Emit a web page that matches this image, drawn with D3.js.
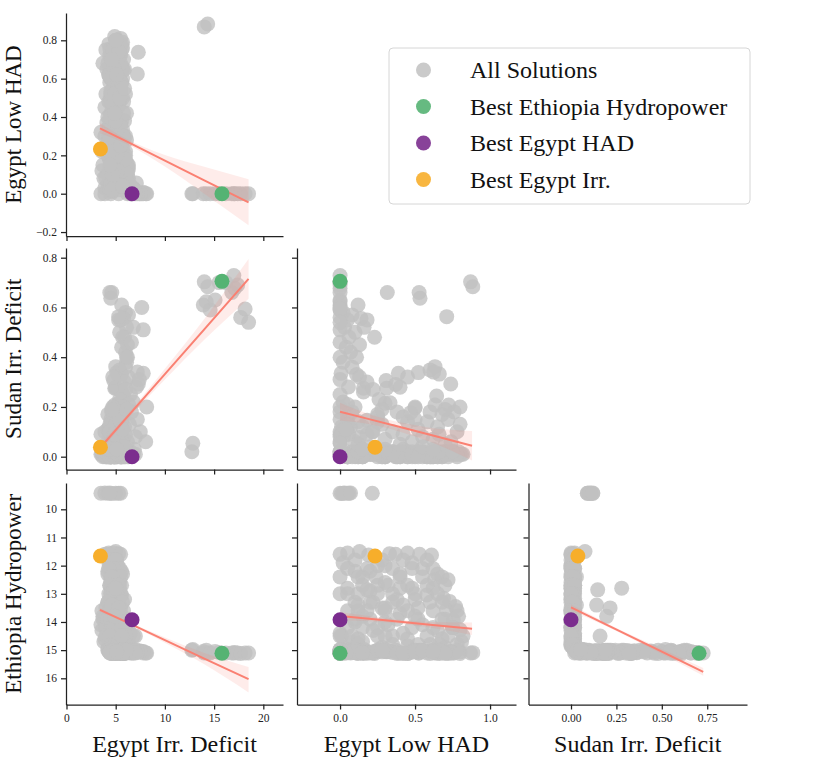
<!DOCTYPE html>
<html>
<head>
<meta charset="utf-8">
<script src="https://cdn.jsdelivr.net/npm/d3@7"></script>
<style>
  body { margin: 0; background: #fff; }
  text { font-family: "Liberation Serif", "DejaVu Serif", serif; }
</style>
</head>
<body>
<svg id="pairplot" width="830" height="764"></svg>
<script>
// variables of the pair plot, in the order [E, H, S, T]
const variables = ["Egypt Irr. Deficit", "Egypt Low HAD", "Sudan Irr. Deficit", "Ethiopia Hydropower"];

// solutions with the lowest Ethiopia hydropower
const lowHydroSolutions = [
  [3.5, 0.00, 0.09, 9.43], [3.9, 0.03, 0.10, 9.42], [4.2, 0.05, 0.11, 9.43],
  [4.6, 0.01, 0.12, 9.44], [5.0, 0.06, 0.09, 9.43], [5.3, 0.02, 0.11, 9.43],
  [5.5, 0.215, 0.10, 9.43], [4.4, 0.07, 0.12, 9.42]
];

// solutions with (almost) no Sudan deficit
const sudanZeroSolutions = [
  [3.9, 0.00, 0.01, 11.60], [4.3, 0.05, 0.00, 11.55], [5.0, 0.13, 0.077, 11.50],
  [4.6, 0.19, 0.02, 11.62], [5.3, 0.33, 0.01, 11.58], [4.1, 0.37, 0.00, 11.60],
  [4.8, 0.45, 0.02, 11.55], [5.5, 0.53, 0.01, 11.60], [4.4, 0.61, 0.00, 11.62],
  [4.4, 0.02, 0.01, 11.90], [5.2, 0.25, 0.00, 12.00], [4.7, 0.55, 0.02, 12.10],
  [5.6, 0.10, 0.01, 12.20], [4.2, 0.40, 0.00, 12.30], [5.0, 0.63, 0.02, 12.49],
  [4.5, 0.72, 0.01, 12.50], [5.4, 0.30, 0.00, 12.60], [4.9, 0.15, 0.03, 12.40],
  [4.3, 0.48, 0.01, 11.90], [4.6, 0.05, 0.00, 12.80], [5.1, 0.20, 0.02, 12.90],
  [4.3, 0.35, 0.01, 13.00], [5.6, 0.578, 0.00, 13.04], [4.8, 0.69, 0.02, 13.16],
  [5.3, 0.73, 0.01, 13.27], [4.5, 0.50, 0.00, 13.20], [5.0, 0.42, 0.03, 13.40],
  [4.2, 0.10, 0.01, 13.30], [5.5, 0.28, 0.00, 13.50], [4.7, 0.71, 0.02, 13.57],
  [5.2, 0.77, 0.01, 13.45], [4.9, 0.62, 0.00, 12.80], [4.4, 0.25, 0.02, 12.70],
  [3.7, 0.15, 0.01, 13.80], [3.9, 0.30, 0.00, 14.00], [4.4, 0.755, 0.02, 13.93],
  [5.0, 0.80, 0.01, 14.28], [5.8, 0.05, 0.00, 14.20], [6.5, 0.00, 0.02, 14.40],
  [7.0, 0.01, 0.01, 14.50], [4.6, 0.40, 0.00, 13.70], [5.4, 0.55, 0.02, 14.10],
  [6.0, 0.20, 0.01, 13.90], [4.1, 0.65, 0.00, 14.30], [5.2, 0.35, 0.02, 14.50],
  [3.6, 0.22, 0.01, 14.30], [4.8, 0.10, 0.00, 14.00], [6.2, 0.12, 0.02, 14.60],
  [5.5, 0.81, 0.01, 14.70], [4.5, 0.60, 0.00, 14.80], [3.8, 0.08, 0.02, 14.70],
  [6.3, 0.02, 0.01, 14.90], [5.0, 0.45, 0.00, 14.85], [4.2, 0.28, 0.02, 14.90],
  [5.8, 0.70, 0.01, 14.90], [4.3, 0.78, 0.00, 13.60], [5.7, 0.79, 0.02, 13.80],
  [4.9, 0.82, 0.01, 14.50], [3.7, 0.68, 0.00, 13.90], [3.5, 0.32, 0.01, 14.10],
  [3.6, 0.12, 0.02, 13.60], [5.9, 0.38, 0.00, 13.20], [5.7, 0.65, 0.01, 12.30],
  [5.4, 0.48, 0.02, 12.80], [4.2, 0.20, 0.01, 12.20], [4.6, 0.30, 0.00, 12.00],
  [5.3, 0.05, 0.01, 13.00], [4.0, 0.52, 0.02, 13.50], [6.1, 0.42, 0.01, 14.40],
  [6.3, 0.15, 0.00, 14.70], [3.9, 0.45, 0.01, 14.60], [4.7, 0.22, 0.02, 13.30],
  [5.1, 0.68, 0.00, 14.60], [4.0, 0.75, 0.01, 14.20],
  [4.6, 0.10, 0.01, 11.80], [5.1, 0.28, 0.00, 11.80], [4.5, 0.42, 0.02, 11.80],
  [5.0, 0.58, 0.01, 11.80], [4.9, 0.05, 0.00, 12.10], [4.4, 0.18, 0.02, 12.10],
  [5.4, 0.35, 0.01, 12.10], [4.8, 0.48, 0.00, 12.10], [4.3, 0.62, 0.01, 12.10],
  [5.3, 0.00, 0.02, 12.40], [4.5, 0.12, 0.00, 12.40], [5.0, 0.24, 0.01, 12.40],
  [4.7, 0.40, 0.02, 12.40], [5.5, 0.55, 0.00, 12.40], [4.6, 0.68, 0.01, 12.40],
  [5.6, 0.15, 0.00, 12.70], [4.6, 0.32, 0.02, 12.70], [5.2, 0.45, 0.01, 12.70],
  [4.4, 0.58, 0.00, 12.70], [5.3, 0.70, 0.02, 12.70], [4.5, 0.00, 0.01, 13.00],
  [5.5, 0.12, 0.00, 13.00], [4.8, 0.25, 0.02, 13.00], [5.1, 0.50, 0.01, 13.00],
  [4.5, 0.65, 0.00, 13.00], [5.3, 0.20, 0.01, 13.30], [4.4, 0.35, 0.02, 13.30],
  [5.7, 0.60, 0.00, 13.30], [4.2, 0.68, 0.01, 13.30], [5.0, 0.05, 0.00, 13.60],
  [4.4, 0.18, 0.02, 13.60], [5.8, 0.30, 0.01, 13.60], [4.9, 0.45, 0.00, 13.60],
  [5.4, 0.62, 0.02, 13.60], [4.2, 0.10, 0.01, 13.90], [5.6, 0.38, 0.00, 13.90],
  [4.5, 0.52, 0.02, 13.90], [5.2, 0.70, 0.01, 13.90], [6.2, 0.15, 0.00, 14.20],
  [4.6, 0.25, 0.02, 14.20], [5.8, 0.48, 0.01, 14.20], [4.8, 0.62, 0.00, 14.20],
  [5.6, 0.75, 0.02, 14.20], [6.8, 0.00, 0.01, 14.50], [4.0, 0.08, 0.00, 14.50],
  [6.0, 0.30, 0.02, 14.50], [5.3, 0.58, 0.01, 14.50], [4.4, 0.72, 0.00, 14.50],
  [5.4, 0.12, 0.02, 14.80], [4.6, 0.35, 0.01, 14.80], [6.0, 0.52, 0.00, 14.80],
  [4.9, 0.66, 0.02, 14.80], [5.2, 0.78, 0.01, 14.80]
];

// a few solutions with a moderate Sudan deficit and mid hydropower
const sudanMidSolutions = [
  [4.8, 0.18, 0.147, 12.86], [5.0, 0.40, 0.279, 12.80], [4.6, 0.12, 0.141, 13.40],
  [5.3, 0.30, 0.215, 13.50], [4.9, 0.50, 0.196, 13.80], [5.6, 0.25, 0.16, 14.50]
];

// solutions at (almost) maximum Ethiopia hydropower
const hydroMaxSolutions = [
  [7.65, 0.00, 0.60, 15.05], [6.0, 0.02, 0.58, 15.10], [5.5, 0.05, 0.55, 15.00],
  [6.3, 0.08, 0.57, 15.08], [5.6, 0.12, 0.61, 15.12], [5.8, 0.14, 0.556, 15.02],
  [6.8, 0.03, 0.52, 15.10], [5.4, 0.10, 0.50, 15.05], [6.1, 0.16, 0.52, 14.98],
  [7.8, 0.00, 0.51, 15.10], [5.9, 0.06, 0.48, 15.00], [6.2, 0.13, 0.45, 15.07],
  [5.7, 0.23, 0.48, 15.12], [5.6, 0.04, 0.44, 15.03], [6.0, 0.07, 0.42, 15.10],
  [6.1, 0.11, 0.40, 15.00], [5.3, 0.18, 0.55, 15.06], [6.6, 0.00, 0.46, 15.11],
  [4.4, 0.315, 0.66, 15.05], [4.6, 0.527, 0.66, 15.10], [4.5, 0.533, 0.637, 15.00],
  [5.3, 0.711, 0.563, 15.08],
  [7.8, 0.007, 0.335, 15.05], [5.2, 0.11, 0.33, 15.10], [7.1, 0.056, 0.28, 15.00],
  [5.0, 0.156, 0.275, 15.08], [5.6, 0.156, 0.26, 15.12], [4.8, 0.307, 0.306, 15.03],
  [5.3, 0.389, 0.335, 15.10], [5.5, 0.37, 0.29, 15.00], [4.9, 0.31, 0.275, 15.06],
  [5.1, 0.522, 0.338, 15.10], [5.4, 0.60, 0.349, 15.02], [5.0, 0.633, 0.362, 15.09],
  [5.6, 0.662, 0.332, 15.12], [7.3, 0.738, 0.292, 15.05], [5.8, 0.644, 0.244, 15.00],
  [4.9, 0.633, 0.208, 15.10], [5.7, 0.333, 0.217, 15.04], [5.3, 0.471, 0.177, 15.08],
  [5.5, 0.724, 0.208, 15.12], [5.1, 0.80, 0.20, 15.06], [5.7, 0.76, 0.18, 15.10],
  [6.1, 0.02, 0.38, 15.00], [6.0, 0.08, 0.36, 15.08], [6.3, 0.13, 0.32, 15.03],
  [5.9, 0.18, 0.30, 15.10], [6.2, 0.00, 0.40, 15.06], [8.15, 0.00, 0.20, 15.10],
  [6.8, 0.02, 0.22, 15.00], [7.2, 0.624, 0.34, 15.05],
  [6.5, 0.00, 0.25, 15.08], [7.4, 0.00, 0.31, 15.02], [6.0, 0.22, 0.27, 15.10],
  [5.4, 0.26, 0.23, 15.04], [4.7, 0.45, 0.32, 15.12], [6.3, 0.05, 0.21, 15.00],
  [4.5, 0.05, 0.15, 15.05], [5.0, 0.15, 0.12, 15.10], [4.2, 0.25, 0.17, 15.00],
  [5.5, 0.35, 0.10, 15.08], [4.8, 0.45, 0.14, 15.12], [5.2, 0.55, 0.08, 15.02],
  [5.9, 0.65, 0.12, 15.10], [5.4, 0.72, 0.15, 15.06], [5.6, 0.78, 0.10, 15.00],
  [8.05, 0.00, 0.06, 15.10], [7.5, 0.00, 0.10, 15.05], [7.2, 0.00, 0.15, 15.08],
  [6.9, 0.02, 0.03, 15.00], [4.4, 0.40, 0.05, 15.10], [4.3, 0.30, 0.03, 15.04],
  [4.6, 0.60, 0.18, 15.12], [5.7, 0.50, 0.20, 15.00], [5.0, 0.70, 0.05, 15.08],
  [4.7, 0.75, 0.02, 15.10], [5.3, 0.08, 0.18, 15.02], [6.0, 0.18, 0.09, 15.10],
  [4.4, 0.28, 0.13, 15.06], [6.2, 0.10, 0.06, 14.98], [5.8, 0.42, 0.16, 15.12],
  [4.9, 0.52, 0.11, 15.04], [5.1, 0.20, 0.04, 15.10], [6.4, 0.05, 0.13, 15.05],
  [4.3, 0.62, 0.07, 15.00], [5.5, 0.68, 0.17, 15.08],
  [4.6, 0.02, 0.08, 15.02], [5.2, 0.12, 0.05, 15.10], [4.4, 0.22, 0.10, 15.06],
  [5.8, 0.30, 0.07, 14.98], [5.0, 0.38, 0.18, 15.12], [4.5, 0.48, 0.06, 15.04],
  [5.6, 0.58, 0.14, 15.10], [4.8, 0.66, 0.09, 15.00], [5.3, 0.74, 0.06, 15.08],
  [5.0, 0.80, 0.13, 15.12], [6.6, 0.00, 0.18, 15.02], [7.0, 0.00, 0.08, 15.10],
  [4.7, 0.10, 0.20, 15.06], [5.5, 0.25, 0.14, 15.00], [4.9, 0.42, 0.09, 15.10],
  [5.4, 0.50, 0.15, 15.04], [4.6, 0.70, 0.19, 15.12], [5.9, 0.55, 0.04, 15.02],
  [4.4, 0.15, 0.03, 15.08], [5.7, 0.04, 0.11, 15.10], [6.1, 0.28, 0.19, 15.00],
  [5.1, 0.62, 0.03, 15.06]
];

// solutions with a large Egypt irrigation deficit
const highEgyptDeficitSolutions = [
  [12.74, 0.00, 0.02, 15.00], [12.84, 0.00, 0.054, 14.98], [13.9, 0.00, 0.61, 15.05],
  [14.0, 0.87, 0.703, 15.10], [14.35, 0.885, 0.683, 15.09], [14.2, 0.00, 0.623, 15.00],
  [14.6, 0.00, 0.59, 15.10], [15.1, 0.00, 0.63, 15.05], [15.5, 0.00, 0.70, 15.08],
  [16.2, 0.00, 0.70, 15.10], [16.8, 0.00, 0.66, 15.10], [17.0, 0.00, 0.728, 15.10],
  [17.1, 0.00, 0.677, 15.08], [17.4, 0.00, 0.69, 15.10], [17.7, 0.00, 0.56, 15.12],
  [18.15, 0.00, 0.594, 15.10], [18.5, 0.00, 0.54, 15.10]
];

// highlighted solutions
const bestEthiopiaHydro = [15.8, 0.0, 0.705, 15.11];
const bestEgyptHad = [6.66, 0.0, 0.0, 13.92];
const bestEgyptIrr = [3.45, 0.233, 0.038, 11.66];

// regression fits: [x, fit, ci low, ci high]
const fitHadIrr = [[3.4, 0.341, 0.315, 0.367], [6, 0.275, 0.262, 0.288], [10, 0.172, 0.142, 0.202], [14, 0.070, 0.0, 0.14], [18.5, -0.045, -0.165, 0.075]];
const fitSudanIrr = [[3.4, 0.035, 0.02, 0.05], [6, 0.152, 0.142, 0.162], [10, 0.332, 0.31, 0.354], [14, 0.512, 0.47, 0.554], [18.5, 0.715, 0.635, 0.795]];
const fitSudanHad = [[0, 0.181, 0.145, 0.217], [0.2, 0.150, 0.13, 0.17], [0.4, 0.119, 0.10, 0.138], [0.6, 0.088, 0.06, 0.116], [0.88, 0.044, -0.015, 0.103]];
const fitHydroIrr = [[3.4, 13.57, 13.50, 13.64], [6, 13.99, 13.95, 14.03], [10, 14.645, 14.55, 14.74], [14, 15.30, 15.1, 15.5], [18.5, 16.03, 15.6, 16.5]];
const fitHydroHad = [[0, 13.79, 13.65, 13.93], [0.3, 13.94, 13.87, 14.01], [0.6, 14.10, 14.0, 14.2], [0.88, 14.24, 14.02, 14.46]];
const fitHydroSudan = [[0, 13.48, 13.38, 13.58], [0.2, 14.11, 14.05, 14.17], [0.5, 15.05, 14.96, 15.14], [0.728, 15.77, 15.63, 15.91]];

// ticks
const egyptIrrTicks = [0, 5, 10, 15, 20];
const egyptHadTicks = [0, 0.5, 1.0];
const sudanTicks = [0, 0.25, 0.5, 0.75];
const hadRowTicks = [-0.2, 0, 0.2, 0.4, 0.6, 0.8];
const sudanRowTicks = [0, 0.2, 0.4, 0.6, 0.8];
const hydroRowTicks = [10, 11, 12, 13, 14, 15, 16];

const legendLabels = ["All Solutions", "Best Ethiopia Hydropower", "Best Egypt HAD", "Best Egypt Irr."];
const legendColors = ["#c4c4c4", "#55b373", "#7b2d8e", "#f7ae2b"];

pairplot = {};
pairplot.svg = d3.select("#pairplot");
pairplot.allSolutions = [].concat(lowHydroSolutions, sudanZeroSolutions, sudanMidSolutions,
  hydroMaxSolutions, highEgyptDeficitSolutions);
pairplot.best = [
  { d: bestEthiopiaHydro, color: legendColors[1] },
  { d: bestEgyptHad, color: legendColors[2] },
  { d: bestEgyptIrr, color: legendColors[3] }
];

// column scales (x) by variable index 0..2, row scales (y) by variable index 1..3
pairplot.x = [
  d3.scaleLinear().domain([-0.05, 22.0]).range([66, 283]),
  d3.scaleLinear().domain([-0.287, 1.173]).range([297, 516]),
  d3.scaleLinear().domain([-0.234, 0.969]).range([528.5, 747])
];
pairplot.y = {
  1: d3.scaleLinear().domain([-0.2206, 0.9424]).range([236, 13]),
  2: d3.scaleLinear().domain([-0.0515, 0.839]).range([469.5, 248]),
  3: d3.scaleLinear().domain([9.066, 16.93]).range([483, 704.5])  // inverted axis
};
pairplot.xTicks = [
  { ticks: egyptIrrTicks, fmt: d3.format("d") },
  { ticks: egyptHadTicks, fmt: d3.format(".1f") },
  { ticks: sudanTicks, fmt: d3.format(".2f") }
];
pairplot.yTicks = {
  1: { ticks: hadRowTicks, fmt: d3.format(".1f") },
  2: { ticks: sudanRowTicks, fmt: d3.format(".1f") },
  3: { ticks: hydroRowTicks, fmt: d3.format("d") }
};

pairplot.panels = [
  { row: 1, col: 0, fit: fitHadIrr },
  { row: 2, col: 0, fit: fitSudanIrr },
  { row: 2, col: 1, fit: fitSudanHad },
  { row: 3, col: 0, fit: fitHydroIrr },
  { row: 3, col: 1, fit: fitHydroHad },
  { row: 3, col: 2, fit: fitHydroSudan }
];

function styleAxis(g) {
  g.selectAll("path.domain").attr("stroke", "#222").attr("stroke-width", 1.25);
  g.selectAll(".tick line").attr("stroke", "#222").attr("stroke-width", 1.25);
  g.selectAll(".tick text").attr("fill", "#222")
    .style("font-family", '"Liberation Serif", serif').style("font-size", "11.5px");
}

pairplot.panels.forEach(function(p) {
  const x = pairplot.x[p.col], y = pairplot.y[p.row];
  const g = pairplot.svg.append("g");
  const yBottom = y.range()[p.row === 3 ? 1 : 0];

  // scatter of all solutions
  g.append("g").selectAll("circle")
    .data(pairplot.allSolutions)
    .enter().append("circle")
    .attr("cx", d => x(d[p.col]))
    .attr("cy", d => y(d[p.row]))
    .attr("r", 7.5)
    .style("fill", "silver")
    .style("opacity", 0.8);

  // confidence band + fit line
  g.append("path")
    .datum(p.fit)
    .attr("d", d3.area().x(d => x(d[0])).y0(d => y(d[2])).y1(d => y(d[3])).curve(d3.curveMonotoneX))
    .style("fill", "#fa8072")
    .style("opacity", 0.15);
  g.append("path")
    .datum(p.fit)
    .attr("d", d3.line().x(d => x(d[0])).y(d => y(d[1])))
    .style("fill", "none")
    .style("stroke", "#fa8072")
    .style("stroke-width", 2);

  // highlighted solutions
  g.append("g").selectAll("circle")
    .data(pairplot.best)
    .enter().append("circle")
    .attr("cx", b => x(b.d[p.col]))
    .attr("cy", b => y(b.d[p.row]))
    .attr("r", 7.5)
    .style("fill", b => b.color);

  // axes
  const xt = pairplot.xTicks[p.col];
  const xAxis = g.append("g")
    .attr("transform", "translate(0," + yBottom + ")")
    .call(d3.axisBottom(x).tickValues(xt.ticks).tickSize(5).tickSizeOuter(0).tickPadding(4)
      .tickFormat(p.row === 3 ? xt.fmt : ""));
  styleAxis(xAxis);

  const yt = pairplot.yTicks[p.row];
  const yAxis = g.append("g")
    .attr("transform", "translate(" + x.range()[0] + ",0)")
    .call(d3.axisLeft(y).tickValues(yt.ticks).tickSize(5).tickSizeOuter(0).tickPadding(4)
      .tickFormat(p.col === 0 ? yt.fmt : ""));
  styleAxis(yAxis);
});

// axis titles
[0, 1, 2].forEach(function(c) {
  const r = pairplot.x[c].range();
  pairplot.svg.append("text")
    .attr("x", (r[0] + r[1]) / 2)
    .attr("y", 752)
    .style("text-anchor", "middle")
    .style("font-size", "24px")
    .attr("fill", "#111")
    .text(variables[c]);
});
[1, 2, 3].forEach(function(rv) {
  const r = pairplot.y[rv].range();
  pairplot.svg.append("text")
    .attr("transform", "translate(21," + ((r[0] + r[1]) / 2) + ") rotate(-90)")
    .style("text-anchor", "middle")
    .style("font-size", "23px")
    .attr("fill", "#111")
    .text(variables[rv]);
});

// legend
const legend = pairplot.svg.append("g");
legend.append("rect")
  .attr("x", 389).attr("y", 48).attr("width", 361).attr("height", 156)
  .attr("rx", 4)
  .style("fill", "white").style("stroke", "#d6d6d6").style("stroke-width", 1);
legendLabels.forEach(function(lbl, i) {
  const cy = 70 + i * 36.5;
  legend.append("circle")
    .attr("cx", 423.5).attr("cy", cy).attr("r", 7.5)
    .style("fill", legendColors[i]).style("opacity", 0.9);
  legend.append("text")
    .attr("x", 470).attr("y", cy).attr("dy", "0.35em")
    .style("font-size", "24px")
    .attr("fill", "#111")
    .text(lbl);
});
</script>
</body>
</html>
